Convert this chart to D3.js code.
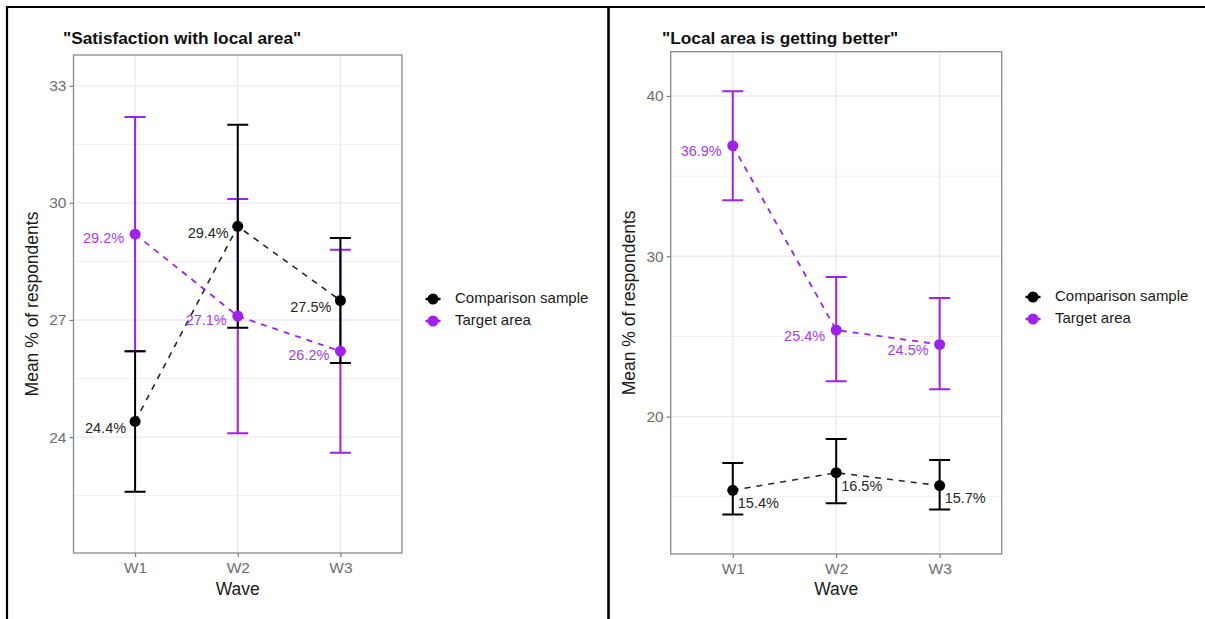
<!DOCTYPE html>
<html>
<head>
<meta charset="utf-8">
<script src="https://cdn.jsdelivr.net/npm/d3@7"></script>
<style>
  body { margin: 0; background: #fff; }
  svg { display: block; font-family: "Liberation Sans", Arial, sans-serif; }
</style>
</head>
<body>
<svg id="chart" width="1205" height="619"></svg>
<script>
// Survey waves
const waves = ["W1", "W2", "W3"];
const seriesNames = ["Comparison sample", "Target area"];

// "Satisfaction with local area" — mean % and 95% interval bounds
const satComparisonMean = [24.4, 29.4, 27.5];
const satComparisonLow = [22.6, 26.8, 25.9];
const satComparisonHigh = [26.2, 32.0, 29.1];
const satTargetMean = [29.2, 27.1, 26.2];
const satTargetLow = [26.2, 24.1, 23.6];
const satTargetHigh = [32.2, 30.1, 28.8];
const satTicks = [24, 27, 30, 33];
const satMinorTicks = [22.5, 25.5, 28.5, 31.5];
const satLimits = [21.03, 33.79];

// "Local area is getting better"
const betComparisonMean = [15.4, 16.5, 15.7];
const betComparisonLow = [13.9, 14.6, 14.2];
const betComparisonHigh = [17.1, 18.6, 17.3];
const betTargetMean = [36.9, 25.4, 24.5];
const betTargetLow = [33.5, 22.2, 21.7];
const betTargetHigh = [40.3, 28.7, 27.4];
const betTicks = [20, 30, 40];
const betMinorTicks = [15, 25, 35];
const betLimits = [11.43, 42.76];

const colors = { "Comparison sample": "#000000", "Target area": "#A020F0" };
const labelColors = { "Comparison sample": "#262626", "Target area": "#A93CF0" };

const svg = d3.select("#chart");

// outer frame: top rule, left rule, centre divider
svg.append("line").attr("x1", 6).attr("x2", 1205).attr("y1", 7).attr("y2", 7)
  .attr("stroke", "#000").attr("stroke-width", 2.2);
svg.append("line").attr("x1", 7).attr("x2", 7).attr("y1", 6).attr("y2", 619)
  .attr("stroke", "#000").attr("stroke-width", 2.2);
svg.append("line").attr("x1", 608.5).attr("x2", 608.5).attr("y1", 6).attr("y2", 619)
  .attr("stroke", "#000").attr("stroke-width", 2.6);

function series(name, mean, low, high) {
  return { name, points: waves.map((w, i) => ({ wave: w, mean: mean[i], low: low[i], high: high[i] })) };
}

function drawPanel(cfg) {
  const g = svg.append("g");
  const x = d3.scalePoint().domain(waves).range([cfg.x0, cfg.x1]).padding(0.6);
  const y = d3.scaleLinear().domain(cfg.limits).range([cfg.y1, cfg.y0]);

  // grid
  g.append("g").selectAll("line").data(cfg.minorTicks).join("line")
    .attr("x1", cfg.x0).attr("x2", cfg.x1).attr("y1", d => y(d)).attr("y2", d => y(d))
    .attr("stroke", "#F0F0F0").attr("stroke-width", 1);
  g.append("g").selectAll("line").data(cfg.ticks).join("line")
    .attr("x1", cfg.x0).attr("x2", cfg.x1).attr("y1", d => y(d)).attr("y2", d => y(d))
    .attr("stroke", "#EBEBEB").attr("stroke-width", 1.4);
  g.append("g").selectAll("line").data(waves).join("line")
    .attr("x1", d => x(d)).attr("x2", d => x(d)).attr("y1", cfg.y0).attr("y2", cfg.y1)
    .attr("stroke", "#EBEBEB").attr("stroke-width", 1.4);

  // axes
  const yAxis = g.append("g").attr("transform", `translate(${cfg.x0},0)`)
    .call(d3.axisLeft(y).tickValues(cfg.ticks).tickSize(4).tickPadding(3).tickFormat(d3.format("d")));
  yAxis.select(".domain").remove();
  yAxis.selectAll("line").attr("stroke", "#7a7a7a").attr("stroke-width", 1.2);
  yAxis.selectAll("text").attr("fill", "#6e6e6e").style("font-size", "15.5px").attr("font-family", null);

  const xAxis = g.append("g").attr("transform", `translate(0,${cfg.y1})`)
    .call(d3.axisBottom(x).tickSize(4).tickPadding(5));
  xAxis.select(".domain").remove();
  xAxis.selectAll("line").attr("stroke", "#7a7a7a").attr("stroke-width", 1.2);
  xAxis.selectAll("text").attr("fill", "#6e6e6e").style("font-size", "15.5px").attr("font-family", null);

  // panel border
  g.append("rect").attr("x", cfg.x0).attr("y", cfg.y0)
    .attr("width", cfg.x1 - cfg.x0).attr("height", cfg.y1 - cfg.y0)
    .attr("fill", "none").attr("stroke", "#8a8a8a").attr("stroke-width", 1.3);

  // axis titles
  g.append("text").attr("x", (cfg.x0 + cfg.x1) / 2).attr("y", 595)
    .attr("text-anchor", "middle").attr("fill", "#1a1a1a").style("font-size", "17.5px").text("Wave");
  g.append("text")
    .attr("transform", `translate(${cfg.yTitleX},${(cfg.y0 + cfg.y1) / 2}) rotate(-90)`)
    .attr("text-anchor", "middle").attr("fill", "#1a1a1a").style("font-size", "17.5px")
    .text("Mean % of respondents");

  // plot title
  g.append("text").attr("x", cfg.titleX).attr("y", 44)
    .attr("fill", "#111").style("font-size", "17.3px").style("font-weight", "bold").text(cfg.title);

  const cap = 10.5;
  // error bars: target first, comparison on top
  [cfg.series[1], cfg.series[0]].forEach(s => {
    const eg = g.append("g").attr("stroke", colors[s.name]).attr("stroke-width", 2).attr("fill", "none");
    eg.selectAll("path").data(s.points).join("path")
      .attr("d", d => `M${x(d.wave) - cap},${y(d.high)}H${x(d.wave) + cap}M${x(d.wave)},${y(d.high)}V${y(d.low)}M${x(d.wave) - cap},${y(d.low)}H${x(d.wave) + cap}`);
  });

  // dashed connecting lines
  const line = d3.line().x(d => x(d.wave)).y(d => y(d.mean));
  cfg.series.forEach(s => {
    g.append("path").datum(s.points).attr("d", line)
      .attr("fill", "none").attr("stroke", colors[s.name])
      .attr("stroke-width", s.name === "Target area" ? 1.8 : 1.6)
      .attr("stroke-opacity", s.name === "Target area" ? 1 : 0.85)
      .attr("stroke-dasharray", "6,6");
  });

  // points
  cfg.series.forEach(s => {
    g.append("g").selectAll("circle").data(s.points).join("circle")
      .attr("cx", d => x(d.wave)).attr("cy", d => y(d.mean)).attr("r", 5.5)
      .attr("fill", colors[s.name]);
  });

  // value labels
  cfg.series.forEach(s => {
    const pos = cfg.labelPos[s.name];
    g.append("g").selectAll("text").data(s.points).join("text")
      .attr("x", d => x(d.wave) + pos.dx).attr("y", d => y(d.mean) + pos.dy)
      .attr("text-anchor", pos.anchor).attr("dominant-baseline", "middle")
      .attr("fill", labelColors[s.name]).style("font-size", "14.5px")
      .text(d => d.mean.toFixed(1) + "%");
  });

  // legend
  const lg = g.append("g").attr("transform", `translate(${cfg.legendX},${cfg.legendY})`);
  seriesNames.forEach((name, i) => {
    const row = lg.append("g").attr("transform", `translate(0,${i * 22})`);
    row.append("line").attr("x1", -7.5).attr("x2", 7.5).attr("stroke", colors[name]).attr("stroke-width", 2.5);
    row.append("circle").attr("r", 5.5).attr("fill", colors[name]);
    row.append("text").attr("x", 22).attr("dominant-baseline", "middle")
      .attr("fill", "#1a1a1a").style("font-size", "15px").text(name);
  });
}

drawPanel({
  title: "\"Satisfaction with local area\"",
  titleX: 63,
  x0: 73.5, x1: 402, y0: 55, y1: 553,
  yTitleX: 38,
  limits: satLimits, ticks: satTicks, minorTicks: satMinorTicks,
  series: [
    series("Comparison sample", satComparisonMean, satComparisonLow, satComparisonHigh),
    series("Target area", satTargetMean, satTargetLow, satTargetHigh)
  ],
  labelPos: {
    "Comparison sample": { dx: -9, dy: 8, anchor: "end" },
    "Target area": { dx: -11, dy: 5, anchor: "end" }
  },
  legendX: 433, legendY: 299
});

drawPanel({
  title: "\"Local area is getting better\"",
  titleX: 662,
  x0: 670.7, x1: 1001.7, y0: 51.7, y1: 554,
  yTitleX: 635,
  limits: betLimits, ticks: betTicks, minorTicks: betMinorTicks,
  series: [
    series("Comparison sample", betComparisonMean, betComparisonLow, betComparisonHigh),
    series("Target area", betTargetMean, betTargetLow, betTargetHigh)
  ],
  labelPos: {
    "Comparison sample": { dx: 5, dy: 14, anchor: "start" },
    "Target area": { dx: -11, dy: 7, anchor: "end" }
  },
  legendX: 1033, legendY: 297
});
</script>
</body>
</html>
